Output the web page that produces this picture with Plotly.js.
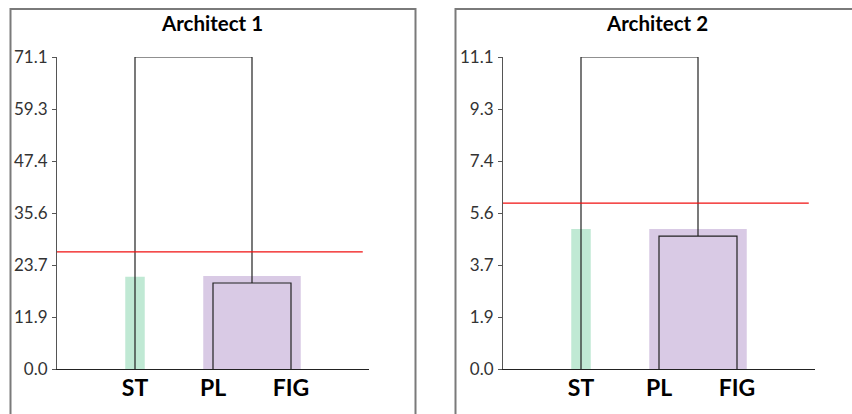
<!DOCTYPE html>
<html>
<head>
<meta charset="utf-8">
<script src="https://cdn.plot.ly/plotly-3.0.1.min.js"></script>
<style>html,body{margin:0;padding:0;background:#fff;}#chart{width:852px;height:414px;}</style>
</head>
<body>
<div id="chart"></div>
<script>
// ---- data ----
const categories = ['ST', 'PL', 'FIG'];
const categoryPos = [1, 2, 3];
const panelTitles = ['Architect 1', 'Architect 2'];

// merge heights: [PL+FIG, ST+(PL,FIG)]
const arch1Merges = [19.6, 71.1];
const arch2Merges = [4.73, 11.1];

// cut-off threshold (red line)
const arch1Threshold = 26.7;
const arch2Threshold = 5.9;

// cluster bar heights: [ST cluster, PL+FIG cluster]
const arch1Clusters = [21.0, 21.2];
const arch2Clusters = [4.98, 4.98];

const arch1TickVals = [0, 11.85, 23.7, 35.55, 47.4, 59.25, 71.1];
const arch1TickText = ['0.0', '11.9', '23.7', '35.6', '47.4', '59.3', '71.1'];
const arch2TickVals = [0, 1.85, 3.7, 5.55, 7.4, 9.25, 11.1];
const arch2TickText = ['0.0', '1.9', '3.7', '5.6', '7.4', '9.3', '11.1'];

// ---- build ----
const FONT = 'Lato, "Open Sans", sans-serif';
const W = 852, H = 414;
const px = v => v / W;
const py = v => 1 - v / H;

function panelTraces(merges, threshold, clusters, xa, ya) {
  const st = categoryPos[0], pl = categoryPos[1], fig = categoryPos[2];
  const mid = (pl + fig) / 2;
  const pad = 0.125;
  const traces = [];
  traces.push({
    type: 'bar', x: [st], y: [clusters[0]], width: [2 * pad], base: 0,
    marker: {color: '#c0e9d4', line: {width: 0}}, xaxis: xa, yaxis: ya, hoverinfo: 'skip'
  });
  traces.push({
    type: 'bar', x: [mid], y: [clusters[1]], width: [fig - pl + 2 * pad], base: 0,
    marker: {color: '#d9cae5', line: {width: 0}}, xaxis: xa, yaxis: ya, hoverinfo: 'skip'
  });
  // inner link PL-FIG
  traces.push({
    type: 'scatter', mode: 'lines', x: [pl, pl, fig, fig], y: [0, merges[0], merges[0], 0],
    line: {color: '#222', width: 1.2}, xaxis: xa, yaxis: ya, cliponaxis: false, hoverinfo: 'skip'
  });
  // outer link ST-(PL,FIG)
  traces.push({
    type: 'scatter', mode: 'lines', x: [st, st, mid, mid], y: [0, merges[1], merges[1], merges[0]],
    line: {color: '#222', width: 1.2}, xaxis: xa, yaxis: ya, cliponaxis: false, hoverinfo: 'skip'
  });
  // threshold
  traces.push({
    type: 'scatter', mode: 'lines', x: [0, 3.92], y: [threshold, threshold],
    line: {color: '#f01010', width: 1.4}, xaxis: xa, yaxis: ya, cliponaxis: false, hoverinfo: 'skip'
  });
  return traces;
}

const data = [].concat(
  panelTraces(arch1Merges, arch1Threshold, arch1Clusters, 'x', 'y'),
  panelTraces(arch2Merges, arch2Threshold, arch2Clusters, 'x2', 'y2')
);

function xAxis(domain, anchor) {
  return {
    domain: domain, anchor: anchor, range: [0, 4], fixedrange: true,
    showgrid: false, zeroline: false, showline: true, linecolor: '#222', linewidth: 1,
    tickvals: categoryPos, ticktext: categories,
    ticks: '', ticklabelstandoff: -2,
    tickfont: {family: FONT, size: 23, color: '#000', weight: 'bold'}
  };
}
function yAxis(domain, anchor, maxv, vals, text) {
  return {
    domain: domain, anchor: anchor, range: [0, maxv], fixedrange: true,
    showgrid: false, zeroline: false, showline: true, linecolor: '#555', linewidth: 1,
    ticks: 'outside', ticklen: 4, tickcolor: '#555', tickwidth: 1,
    ticklabelstandoff: 1,
    tickvals: vals, ticktext: text,
    tickfont: {family: FONT, size: 17, color: '#333'}
  };
}

const yDom = [py(369), py(57)];
const borderColor = '#7a7a7a';
const layout = {
  width: W, height: H,
  margin: {l: 0, r: 0, t: 0, b: 0},
  paper_bgcolor: '#fff', plot_bgcolor: 'rgba(0,0,0,0)',
  showlegend: false, barmode: 'overlay',
  xaxis: xAxis([px(57), px(369)], 'y'),
  yaxis: yAxis(yDom, 'x', arch1Merges[1], arch1TickVals, arch1TickText),
  xaxis2: xAxis([px(503), px(815)], 'y2'),
  yaxis2: yAxis(yDom, 'x2', arch2Merges[1], arch2TickVals, arch2TickText),
  annotations: [
    {text: panelTitles[0], xref: 'paper', yref: 'paper', x: px(212), y: py(23), xanchor: 'center', yanchor: 'middle', showarrow: false,
     font: {family: FONT, size: 20.5, color: '#000', weight: 'bold'}},
    {text: panelTitles[1], xref: 'paper', yref: 'paper', x: px(657), y: py(23), xanchor: 'center', yanchor: 'middle', showarrow: false,
     font: {family: FONT, size: 20.5, color: '#000', weight: 'bold'}}
  ],
  shapes: [
    {type: 'path', xref: 'paper', yref: 'paper', path: `M ${px(10.5)} -0.05 L ${px(10.5)} ${py(9)} L ${px(415.5)} ${py(9)} L ${px(415.5)} -0.05`,
     line: {color: borderColor, width: 2}},
    {type: 'path', xref: 'paper', yref: 'paper', path: `M ${px(455.5)} -0.05 L ${px(455.5)} ${py(9)} L 1.05 ${py(9)}`,
     line: {color: borderColor, width: 2}}
  ]
};

Plotly.newPlot('chart', data, layout, {displayModeBar: false, staticPlot: true});
</script>
</body>
</html>
